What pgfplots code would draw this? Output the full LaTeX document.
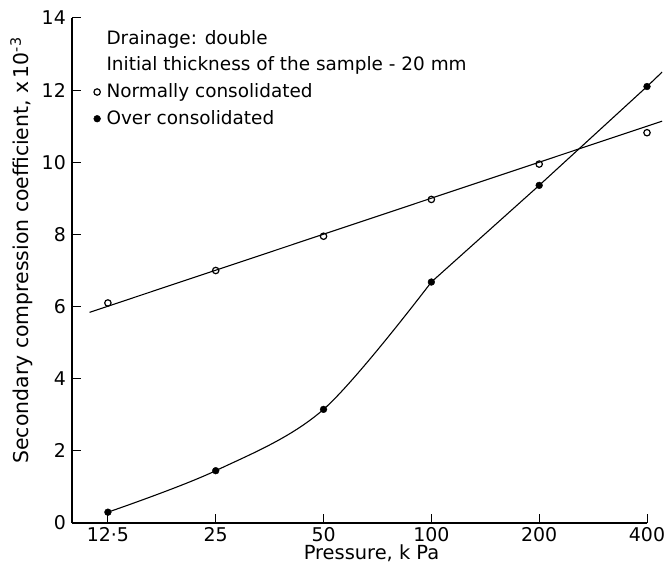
\documentclass[border=0pt]{standalone}
\usepackage{fontspec}
\setmainfont{DejaVu Sans}
\usepackage{pgfplots}
\pgfplotsset{compat=1.18}
\begin{document}
\fontsize{18}{21}\selectfont
\begin{tikzpicture}
\begin{axis}[
  scale only axis,
  width=575bp, height=505bp,
  xmin=-0.333, xmax=5,
  ymin=0, ymax=14,
  axis lines*=left,
  axis line style={line width=1.2pt},
  clip=false,
  xtick={0,1,2,3,4,5},
  xticklabels={12·5,25,50,100,200,400},
  ytick={0,2,4,6,8,10,12,14},
  tick align=inside,
  major tick length=9bp,
  tick style={line width=1pt, black},
  /pgf/number format/assume math mode=true,
  tick label style={font=\fontsize{19}{21}\selectfont},
  xticklabel style={yshift=2bp},
  xlabel={Pressure, k Pa},
  ylabel={Secondary compression coefficient, x\,10\textsuperscript{-3}},
  xlabel style={font=\fontsize{19.5}{22}\selectfont, yshift=9bp, xshift=12bp},
  ylabel style={font=\fontsize{20.5}{24}\selectfont, yshift=-3bp, xshift=20bp},
  legend style={at={(0.036,0.98)}, anchor=north west, draw=none, fill=none,
    font=\fontsize{18.5}{21}\selectfont, row sep=6bp, cells={anchor=west},
    inner sep=0pt, nodes={inner sep=2bp},
    /tikz/every odd column/.append style={column sep=4bp}},
  legend cell align=left,
  legend image code/.code={\draw[#1] plot coordinates {(0.15cm,0cm)};},
]
\addlegendimage{empty legend}\addlegendentry{Drainage: double}
\addlegendimage{empty legend}\addlegendentry{Initial thickness of the sample - 20 mm}
\addplot[only marks, mark=o, mark size=3.2bp, mark options={line width=1.2pt, fill=white}] coordinates {
  (0,6.1) (1,7.0) (2,7.95) (3,8.97) (4,9.95) (5,10.82)};
\addlegendentry{Normally consolidated}
\addplot[only marks, mark=*, mark size=3.4bp, mark options={fill=black}] coordinates {
  (0,0.3) (1,1.45) (2,3.15) (3,6.68) (4,9.36) (5,12.1)};
\addlegendentry{Over consolidated}
% fitted straight line (normally consolidated)
\addplot[forget plot, line width=1.1pt] coordinates {(-0.17,5.84) (5.14,11.14)};
% curve (over consolidated): smooth up to 100 kPa, straight beyond
\addplot[forget plot, smooth, tension=0.55, line width=1.1pt] coordinates {
  (0,0.3) (1,1.45) (2,3.15) (3,6.68)};
\addplot[forget plot, line width=1.1pt] coordinates {
  (3,6.68) (4,9.36) (5,12.1) (5.14,12.5)};
\coordinate (SW) at (rel axis cs:0,0);
\coordinate (NE) at (rel axis cs:1,1);
\end{axis}
\pgfresetboundingbox
\path[use as bounding box] ([xshift=-72bp,yshift=-47bp]SW) rectangle ([xshift=17bp,yshift=18bp]NE);
\end{tikzpicture}
\end{document}
